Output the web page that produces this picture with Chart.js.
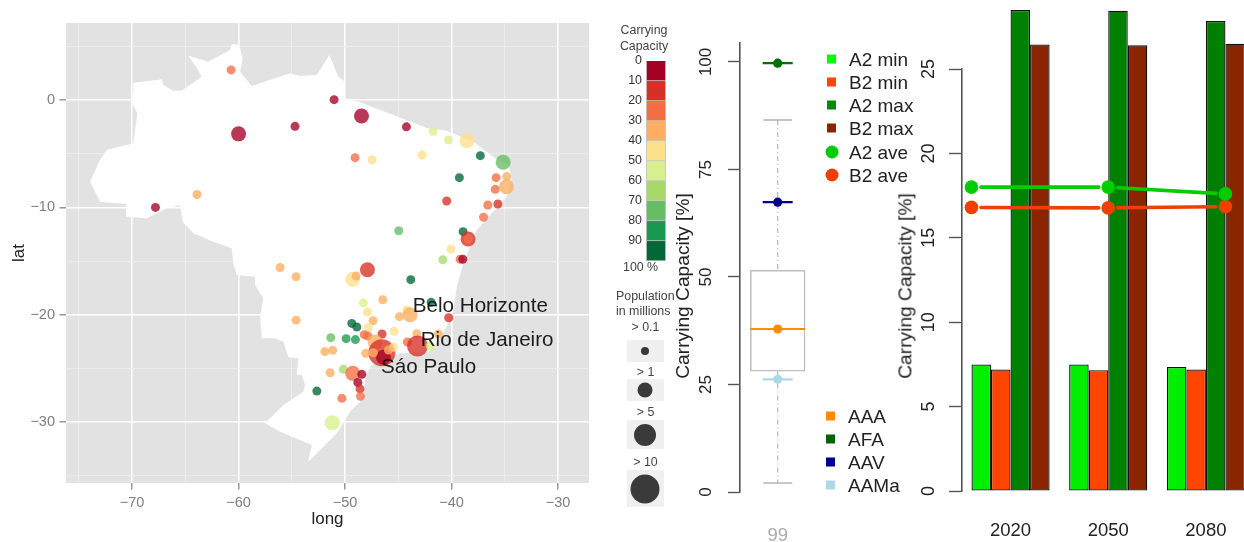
<!DOCTYPE html>
<html>
<head>
<meta charset="utf-8">
<title>Carrying capacity</title>
<script src="https://cdn.jsdelivr.net/npm/chart.js@4/dist/chart.umd.js"></script>
<style>
    html, body { margin: 0; padding: 0; background: #fff; overflow: hidden; width: 1244px; height: 542px; }
    body { position: relative; font-family: "Liberation Sans", sans-serif; color: #222; }
    canvas { position: absolute; display: block; }
    .txt { position: absolute; white-space: nowrap; line-height: 1; }
    .mid { transform: translate(-50%, -50%); }
    .left { transform: translate(0, -50%); }
    .rot { transform: translate(-50%, -50%) rotate(-90deg); }
    .small { font-size: 12.4px; color: #444; }
    .leg { font-size: 19px; color: #222; }
    .axis { font-size: 19.2px; color: #222; }
    .swatch { position: absolute; width: 9px; height: 9px; transform: translate(0, -50%); }
    .dot { position: absolute; width: 13px; height: 13px; border-radius: 50%; transform: translate(-50%, -50%); }
    .panel { position: absolute; background: #f0f0f0; width: 37px; }
    .bub { position: absolute; border-radius: 50%; background: #3a3a3a; transform: translate(-50%, -50%); }
</style>
</head>
<body>
<canvas id="map" width="600" height="542" style="left:0;top:0"></canvas>
<canvas id="scale" width="60" height="280" style="left:615px;top:0"></canvas>
<canvas id="box" width="150" height="542" style="left:680px;top:0"></canvas>
<canvas id="bars" width="360" height="542" style="left:900px;top:0"></canvas>

<script>
"use strict";

// map outline, lon / lat
const brazilLon = [-69.88,-67.68,-67.21,-67.06,-66.12,-65.33,-63.46,-63.92,-64.71,-62.84,-60.80,-60.64,-59.92,-59.61,-59.86,-58.76,-55.94,-55.16,-54.23,-52.66,-51.47,-50.63,-50.00,-50.00,-48.43,-45.46,-42.33,-40.45,-37.95,-35.92,-34.67,-34.35,-34.82,-36.23,-37.63,-38.89,-39.51,-39.83,-40.30,-41.08,-42.18,-44.84,-47.49,-48.12,-48.28,-49.53,-50.78,-53.45,-53.13,-56.10,-57.51,-55.79,-53.92,-53.76,-54.07,-54.54,-54.38,-55.32,-55.79,-56.57,-57.82,-57.98,-57.67,-58.45,-58.45,-60.17,-60.49,-60.64,-62.37,-64.24,-65.24,-65.49,-66.74,-68.62,-70.56,-70.56,-73.00,-73.94,-73.00,-72.38,-70.82,-69.88,-69.50,-70.03,-69.88];
const brazilLat = [1.61,1.86,1.93,1.40,0.87,0.87,2.17,2.95,4.12,3.57,4.66,5.21,5.12,3.79,2.64,1.30,2.23,2.49,2.23,2.33,4.19,2.17,1.70,0.16,-0.28,-1.40,-2.61,-2.86,-3.88,-5.43,-6.05,-7.29,-9.00,-10.55,-12.10,-15.20,-17.38,-19.55,-20.79,-22.19,-23.44,-23.56,-24.67,-25.76,-27.77,-29.02,-31.03,-33.68,-32.12,-30.88,-30.10,-28.40,-27.16,-26.54,-25.61,-25.61,-24.05,-23.96,-22.50,-22.19,-22.19,-20.18,-18.46,-17.23,-16.45,-16.29,-15.20,-13.81,-13.19,-12.41,-11.33,-9.78,-10.08,-11.01,-10.87,-9.68,-9.47,-7.61,-5.59,-4.66,-4.26,-4.03,-1.24,-0.16,0.62];

// cities: longitude, latitude, carrying capacity in %, population in millions
const cityLon = [-60.7,-60.0,-54.7,-63.9,-67.8,-56.1,-54.6,-54.6,-52.65,-51.03,-48.46,-44.24,-41.74,-40.3,-38.55,-37.3,-35.16,-49.06,-47.46,-42.77,-39.27,-35.82,-34.82,-35.9,-34.85,-40.46,-36.6,-35.66,-37.0,-44.96,-38.92,-38.45,-38.45,-40.05,-40.82,-39.2,-38.95,-47.9,-49.28,-48.97,-43.83,-41.92,-46.46,-48.28,-47.9,-44.2,-43.9,-44.9,-40.27,-47.37,-49.37,-48.9,-47.8,-46.53,-45.4,-48.2,-47.87,-51.34,-49.9,-49.03,-43.27,-41.24,-44.15,-47.18,-43.2,-42.0,-46.55,-46.4,-45.46,-45.93,-47.34,-48.06,-51.9,-51.16,-50.16,-51.4,-49.28,-48.43,-48.8,-48.6,-50.3,-48.56,-51.2];
const cityLat = [2.8,-3.15,-2.45,-8.8,-10.0,-15.6,-16.45,-20.5,-27.1,0.03,-1.49,-2.5,-2.92,-3.72,-3.79,-5.18,-5.8,-5.37,-5.56,-5.12,-7.23,-7.23,-7.13,-8.32,-8.07,-9.4,-9.78,-9.68,-10.92,-12.17,-12.26,-12.94,-12.94,-13.87,-14.87,-14.83,-14.83,-15.8,-16.7,-16.39,-16.73,-18.84,-18.6,-18.9,-19.74,-19.55,-20.0,-20.17,-20.27,-20.55,-20.8,-21.13,-21.17,-21.79,-21.54,-21.85,-21.97,-22.13,-22.22,-22.31,-21.76,-21.79,-22.53,-22.53,-22.9,-22.9,-23.53,-23.95,-23.03,-23.28,-23.53,-23.59,-23.43,-23.3,-25.08,-25.39,-25.45,-25.54,-26.3,-26.9,-27.78,-27.59,-30.05];
const cityCap = [25,5,5,35,5,35,35,35,95,5,5,5,55,55,45,95,75,25,45,45,95,25,35,25,35,15,25,15,25,75,95,15,25,45,65,25,5,15,45,35,95,95,35,55,45,45,35,35,15,35,95,95,45,15,45,25,25,75,85,85,35,35,25,35,15,55,15,5,45,35,35,35,35,35,65,35,25,5,3,15,25,25,50];
const cityPop = [0.3,2,0.3,0.3,0.3,0.3,0.3,0.3,0.3,0.3,2,0.3,0.3,0.3,2,0.3,2,0.3,0.3,0.3,0.3,0.3,0.3,0.3,2,0.3,0.3,0.3,0.3,0.3,0.3,2,0.3,0.3,0.3,0.3,0.3,2,2,0.3,0.3,0.3,0.3,0.3,0.3,0.3,2,0.3,0.3,0.3,0.3,0.3,0.3,0.3,0.3,0.3,0.3,0.3,0.3,0.3,0.3,0.3,0.3,2,6,0.3,11,2,0.3,0.3,0.3,0.3,0.3,0.3,0.3,0.3,2,0.3,0.3,0.3,0.3,0.3,2];

const labelNames = ["Belo Horizonte", "Rio de Janeiro", "Sáo Paulo"];
const labelLon = [-43.64, -42.9, -46.62];
const labelLat = [-19.18, -22.35, -24.9];

const lonTicks = [-75,-70,-65,-60,-55,-50,-45,-40,-35,-30];
const latTicks = [5,0,-5,-10,-15,-20,-25,-30,-35];

// colour key
const capBins = [10,10,10,10,10,10,10,10,10,10];
const capColors = ["#a50026","#d73027","#f46d43","#fdae61","#fee08b","#d9ef8b","#a6d96a","#66bd63","#1a9850","#006837"];
const sizeKeyLabels = ["> 0.1", "> 1", "> 5", "> 10"];

// box panel
const boxCategory = ["99"];
const boxLow = 28;
const boxHigh = 51.6;
const whiskerLow = 2.1;
const whiskerHigh = 86.5;
const modelNames = ["AAA", "AFA", "AAV", "AAMa"];
const modelValues = [37.9, 99.7, 67.4, 26.2];
const modelColors = ["#ff8c00", "#006f00", "#00008b", "#add8e6"];
const boxTicks = [0, 25, 50, 75, 100];

// bar panel
const years = ["2020", "2050", "2080"];
const yearSlots = [0, 1, 2];
const a2Min = [7.5, 7.5, 7.35];
const b2Min = [7.2, 7.15, 7.2];
const a2Max = [28.5, 28.45, 27.85];
const b2Max = [26.45, 26.4, 26.5];
const aveSlot = [-0.4, 1.0, 2.2];
const a2Ave = [18.0, 18.0, 17.6];
const b2Ave = [16.8, 16.77, 16.85];
const barNames = ["A2 min", "B2 min", "A2 max", "B2 max", "A2 ave", "B2 ave"];
const barColors = ["#00ee00", "#ff4500", "#008000", "#8b2500", "#00cd00", "#ee4000"];
const barTicks = [0, 5, 10, 15, 20, 25];

Chart.defaults.animation = false;
Chart.defaults.responsive = false;
Chart.defaults.layout.autoPadding = false;
Chart.defaults.font.family = '"Liberation Sans", sans-serif';
Chart.defaults.plugins.legend.display = false;
Chart.defaults.plugins.tooltip.enabled = false;

function hexToRgba(hex, alpha) {
    let n = parseInt(hex.slice(1), 16);
    return `rgba(${n >> 16}, ${(n >> 8) & 255}, ${n & 255}, ${alpha})`;
}

function capColor(cap) {
    return hexToRgba(capColors[Math.min(9, Math.floor(cap / 10))], 0.78);
}

function popRadius(pop) {
    if (pop > 10) return 13.5;
    if (pop > 5) return 10.5;
    if (pop > 1) return 7.5;
    return 4.5;
}

function minusSign(v) {
    return String(v).replace("-", "\u2212");
}

const mapPlugin = {
    id: "mapPlugin",
    beforeDraw(chart) {
        let a = chart.chartArea;
        chart.ctx.fillStyle = "#e2e2e2";
        chart.ctx.fillRect(a.left, a.top, a.width, a.height);
    },
    beforeDatasetsDraw(chart) {
        let ctx = chart.ctx;
        ctx.fillStyle = "#fff";
        ctx.beginPath();
        brazilLon.forEach(function(lon, i) {
            let x = chart.scales.x.getPixelForValue(lon);
            let y = chart.scales.y.getPixelForValue(brazilLat[i]);
            if (i === 0) ctx.moveTo(x, y); else ctx.lineTo(x, y);
        });
        ctx.closePath();
        ctx.fill();
    },
    afterDatasetsDraw(chart) {
        let ctx = chart.ctx;
        ctx.fillStyle = "rgba(0, 0, 0, 0.88)";
        ctx.font = '20.6px "Liberation Sans", sans-serif';
        ctx.textBaseline = "middle";
        ctx.textAlign = "left";
        labelNames.forEach(function(name, i) {
            ctx.fillText(name, chart.scales.x.getPixelForValue(labelLon[i]), chart.scales.y.getPixelForValue(labelLat[i]));
        });
    }
};

function mapAxis(tickValues, size, horizontal) {
    let isMajor = ctx => ctx.tick && ctx.tick.value % 10 === 0;
    return {
        afterBuildTicks: axis => { axis.ticks = tickValues.map(v => ({ value: v })); },
        afterFit: axis => { if (horizontal) axis.height = size; else axis.width = size; },
        border: { display: false },
        grid: {
            color: ctx => isMajor(ctx) ? "#ffffff" : "#ececec",
            lineWidth: ctx => isMajor(ctx) ? 1.6 : 1,
            tickColor: ctx => isMajor(ctx) ? "#7f7f7f" : "rgba(0,0,0,0)",
            tickLength: 6.5,
            tickWidth: 1.2
        },
        ticks: {
            autoSkip: false,
            maxRotation: 0,
            padding: 4.5,
            color: "#7f7f7f",
            font: { size: 14.5 },
            callback: v => v % 10 === 0 ? minusSign(v) : ""
        }
    };
}

let mapX = mapAxis(lonTicks, 59, true);
mapX.type = "linear";
mapX.min = -76.2;
mapX.max = -27.1;
mapX.title = { display: true, text: "long", color: "#222", font: { size: 17 }, padding: { top: 0, bottom: 12 } };
let mapY = mapAxis(latTicks, 66, false);
mapY.type = "linear";
mapY.min = -35.66;
mapY.max = 7.17;
mapY.title = { display: true, text: "lat", color: "#222", font: { size: 17 }, padding: { top: 9, bottom: 0 } };

new Chart(document.getElementById("map"), {
    type: "scatter",
    plugins: [mapPlugin],
    data: {
        datasets: [{
            label: "Cities",
            data: cityLon.map((lon, i) => ({ x: lon, y: cityLat[i] })),
            pointRadius: cityPop.map(popRadius),
            pointBackgroundColor: cityCap.map(capColor),
            pointBorderWidth: 0
        }]
    },
    options: {
        layout: { padding: { top: 23, right: 11 } },
        scales: { x: mapX, y: mapY }
    }
});

new Chart(document.getElementById("scale"), {
    type: "bar",
    data: {
        labels: ["Capacity"],
        datasets: capBins.map((bin, i) => ({
            label: String(i * 10),
            data: [bin],
            backgroundColor: capColors[i],
            borderColor: "#c6c6c6",
            borderWidth: 1.2,
            barPercentage: 1,
            categoryPercentage: 1
        }))
    },
    options: {
        layout: { padding: { top: 61, bottom: 19, right: 9 } },
        scales: {
            x: { stacked: true, display: false },
            y: {
                stacked: true,
                reverse: true,
                min: 0,
                max: 100,
                afterFit: axis => { axis.width = 31; },
                border: { display: false },
                grid: { display: false, drawTicks: false },
                ticks: {
                    stepSize: 10,
                    padding: 4,
                    color: "#333",
                    font: { size: 12.4 },
                    callback: v => v === 100 ? "" : String(v)
                }
            }
        }
    }
});

function rAxis(tickValues, widthPx, tickLen, pad, fontSize) {
    return {
        afterBuildTicks: axis => { axis.ticks = tickValues.map(v => ({ value: v })); },
        afterFit: axis => { axis.width = widthPx; },
        border: { color: "#555", width: 1.6 },
        grid: { drawOnChartArea: false, tickColor: "#555", tickLength: tickLen, tickWidth: 1.4 },
        ticks: {
            autoSkip: false,
            minRotation: 90,
            maxRotation: 90,
            crossAlign: "center",
            padding: pad,
            color: "#222",
            font: { size: fontSize }
        }
    };
}

function point(cat, v) {
    return [{ x: cat, y: v }];
}

let whiskerStyle = { type: "line", borderColor: "#b5b5b5", borderWidth: 1.2, borderDash: [5, 3, 1, 3], pointRadius: 0, order: 5 };
let capStyle = { type: "line", showLine: false, pointStyle: "line", pointRadius: 14.5, pointBorderWidth: 1.5, pointBorderColor: "#b5b5b5", order: 4 };

let boxY = rAxis(boxTicks, 60, 12, 7.3, 17);
boxY.min = 0;
boxY.max = 104.4;

new Chart(document.getElementById("box"), {
    type: "bar",
    data: {
        labels: boxCategory,
        datasets: [
            Object.assign({ label: "upper whisker", data: [{ x: boxCategory[0], y: whiskerHigh }, { x: boxCategory[0], y: boxHigh }] }, whiskerStyle),
            Object.assign({ label: "lower whisker", data: [{ x: boxCategory[0], y: boxLow }, { x: boxCategory[0], y: whiskerLow }] }, whiskerStyle),
            Object.assign({ label: "upper cap", data: point(boxCategory[0], whiskerHigh) }, capStyle),
            Object.assign({ label: "lower cap", data: point(boxCategory[0], whiskerLow) }, capStyle),
            {
                label: "box",
                data: [[boxLow, boxHigh]],
                backgroundColor: "rgba(255,255,255,0)",
                borderColor: "#bdbdbd",
                borderWidth: 1.5,
                borderSkipped: false,
                barPercentage: 0.734,
                categoryPercentage: 1,
                order: 3
            }
        ].concat(modelNames.map((name, i) => ({
            type: "line",
            label: name + " bar",
            data: point(boxCategory[0], modelValues[i]),
            showLine: false,
            pointStyle: "line",
            pointRadius: i === 0 ? 27.5 : 15,
            pointBorderWidth: 2.2,
            pointBorderColor: modelColors[i],
            order: 2
        }))).concat(modelNames.map((name, i) => ({
            type: "line",
            label: name,
            data: point(boxCategory[0], modelValues[i]),
            showLine: false,
            pointRadius: 4.6,
            pointBorderWidth: 0,
            pointBackgroundColor: modelColors[i],
            order: 1
        })))
    },
    options: {
        layout: { padding: { top: 43, right: 14.6 } },
        scales: {
            x: {
                afterFit: axis => { axis.height = 50; },
                border: { display: false },
                grid: { display: false, drawTicks: false },
                ticks: { padding: 33, color: "#aaaaaa", font: { size: 18.5 } }
            },
            y: boxY
        }
    }
});

// R draws type "b" lines with a gap around each point
function gapSegment(gap) {
    let len = ctx => Math.hypot(ctx.p1.x - ctx.p0.x, ctx.p1.y - ctx.p0.y);
    return {
        borderDash: ctx => [Math.max(0, len(ctx) - 2 * gap), 2 * gap + 50],
        borderDashOffset: () => -gap
    };
}

function barSet(name, values, color) {
    return {
        label: name,
        data: values.map((v, i) => ({ x: yearSlots[i], y: v })),
        backgroundColor: color,
        borderColor: "#111",
        borderWidth: 1.3,
        borderSkipped: false,
        barPercentage: 1,
        categoryPercentage: 0.8,
        clip: false,
        order: 2
    };
}

function aveSet(name, values, color) {
    return {
        type: "line",
        label: name,
        data: values.map((v, i) => ({ x: aveSlot[i], y: v })),
        borderColor: color,
        borderWidth: 3.6,
        borderCapStyle: "round",
        pointRadius: 6.8,
        pointBorderWidth: 0,
        pointBackgroundColor: color,
        segment: gapSegment(9.5),
        clip: false,
        order: 1
    };
}

let barY = rAxis(barTicks, 61.7, 12.7, 10, 18);
barY.min = 0;
barY.max = 25;

new Chart(document.getElementById("bars"), {
    type: "bar",
    data: {
        datasets: [
            barSet(barNames[0], a2Min, barColors[0]),
            barSet(barNames[1], b2Min, barColors[1]),
            barSet(barNames[2], a2Max, barColors[2]),
            barSet(barNames[3], b2Max, barColors[3]),
            aveSet(barNames[4], a2Ave, barColors[4]),
            aveSet(barNames[5], b2Ave, barColors[5])
        ]
    },
    options: {
        layout: { padding: { top: 69, right: 5.25 } },
        scales: {
            x: {
                type: "linear",
                min: -0.5,
                max: 2.5,
                offset: false,
                afterBuildTicks: axis => { axis.ticks = yearSlots.map(v => ({ value: v })); },
                afterFit: axis => { axis.height = 51; },
                border: { display: false },
                grid: { display: false, drawTicks: false },
                ticks: { autoSkip: false, maxRotation: 0, padding: 29, color: "#222", font: { size: 18.5 }, callback: v => years[v] }
            },
            y: barY
        }
    }
});

// html keys and side titles
function addEl(cls, x, y, text) {
    let el = document.createElement("div");
    el.className = cls;
    el.style.left = x + "px";
    el.style.top = y + "px";
    if (text !== undefined) el.textContent = text;
    document.body.appendChild(el);
    return el;
}

addEl("txt mid small", 644, 30, "Carrying");
addEl("txt mid small", 644, 45.5, "Capacity");
addEl("txt left small", 623, 266.5, "100 %");
addEl("txt left small", 616, 295.7, "Population");
addEl("txt left small", 616, 311, "in millions");

let keyRows = [[327, 340, 22, 351, 8], [371.7, 379, 22, 390, 15], [411.7, 420, 29, 435, 22], [462.3, 470, 37, 489, 29]];
sizeKeyLabels.forEach(function(label, i) {
    let r = keyRows[i];
    addEl("txt mid small", 645.5, r[0], label);
    let panel = addEl("panel", 626.5, r[1]);
    panel.style.height = r[2] + "px";
    let bub = addEl("bub", 645, r[3]);
    bub.style.width = r[4] + "px";
    bub.style.height = r[4] + "px";
});

let modelY = [415.7, 438.7, 461.7, 485];
modelNames.forEach(function(name, i) {
    addEl("swatch", 826, modelY[i]).style.background = modelColors[i] === "#006f00" ? "#006400" : modelColors[i];
    addEl("txt left leg", 848, modelY[i], name);
});

let barKeyY = [59.3, 82.3, 105, 128, 151.7, 175];
let barKeyColors = ["#00ff00", "#ff4500", "#008b00", "#8b2500", "#00cd00", "#ee4000"];
barNames.forEach(function(name, i) {
    if (i < 4) addEl("swatch", 827.3, barKeyY[i]).style.background = barKeyColors[i];
    else addEl("dot", 832, barKeyY[i]).style.background = barKeyColors[i];
    addEl("txt left leg", 849, barKeyY[i], name);
});

addEl("txt rot axis", 683, 286, "Carrying Capacity [%]");
addEl("txt rot axis", 905, 286, "Carrying Capacity [%]");
</script>
</body>
</html>
